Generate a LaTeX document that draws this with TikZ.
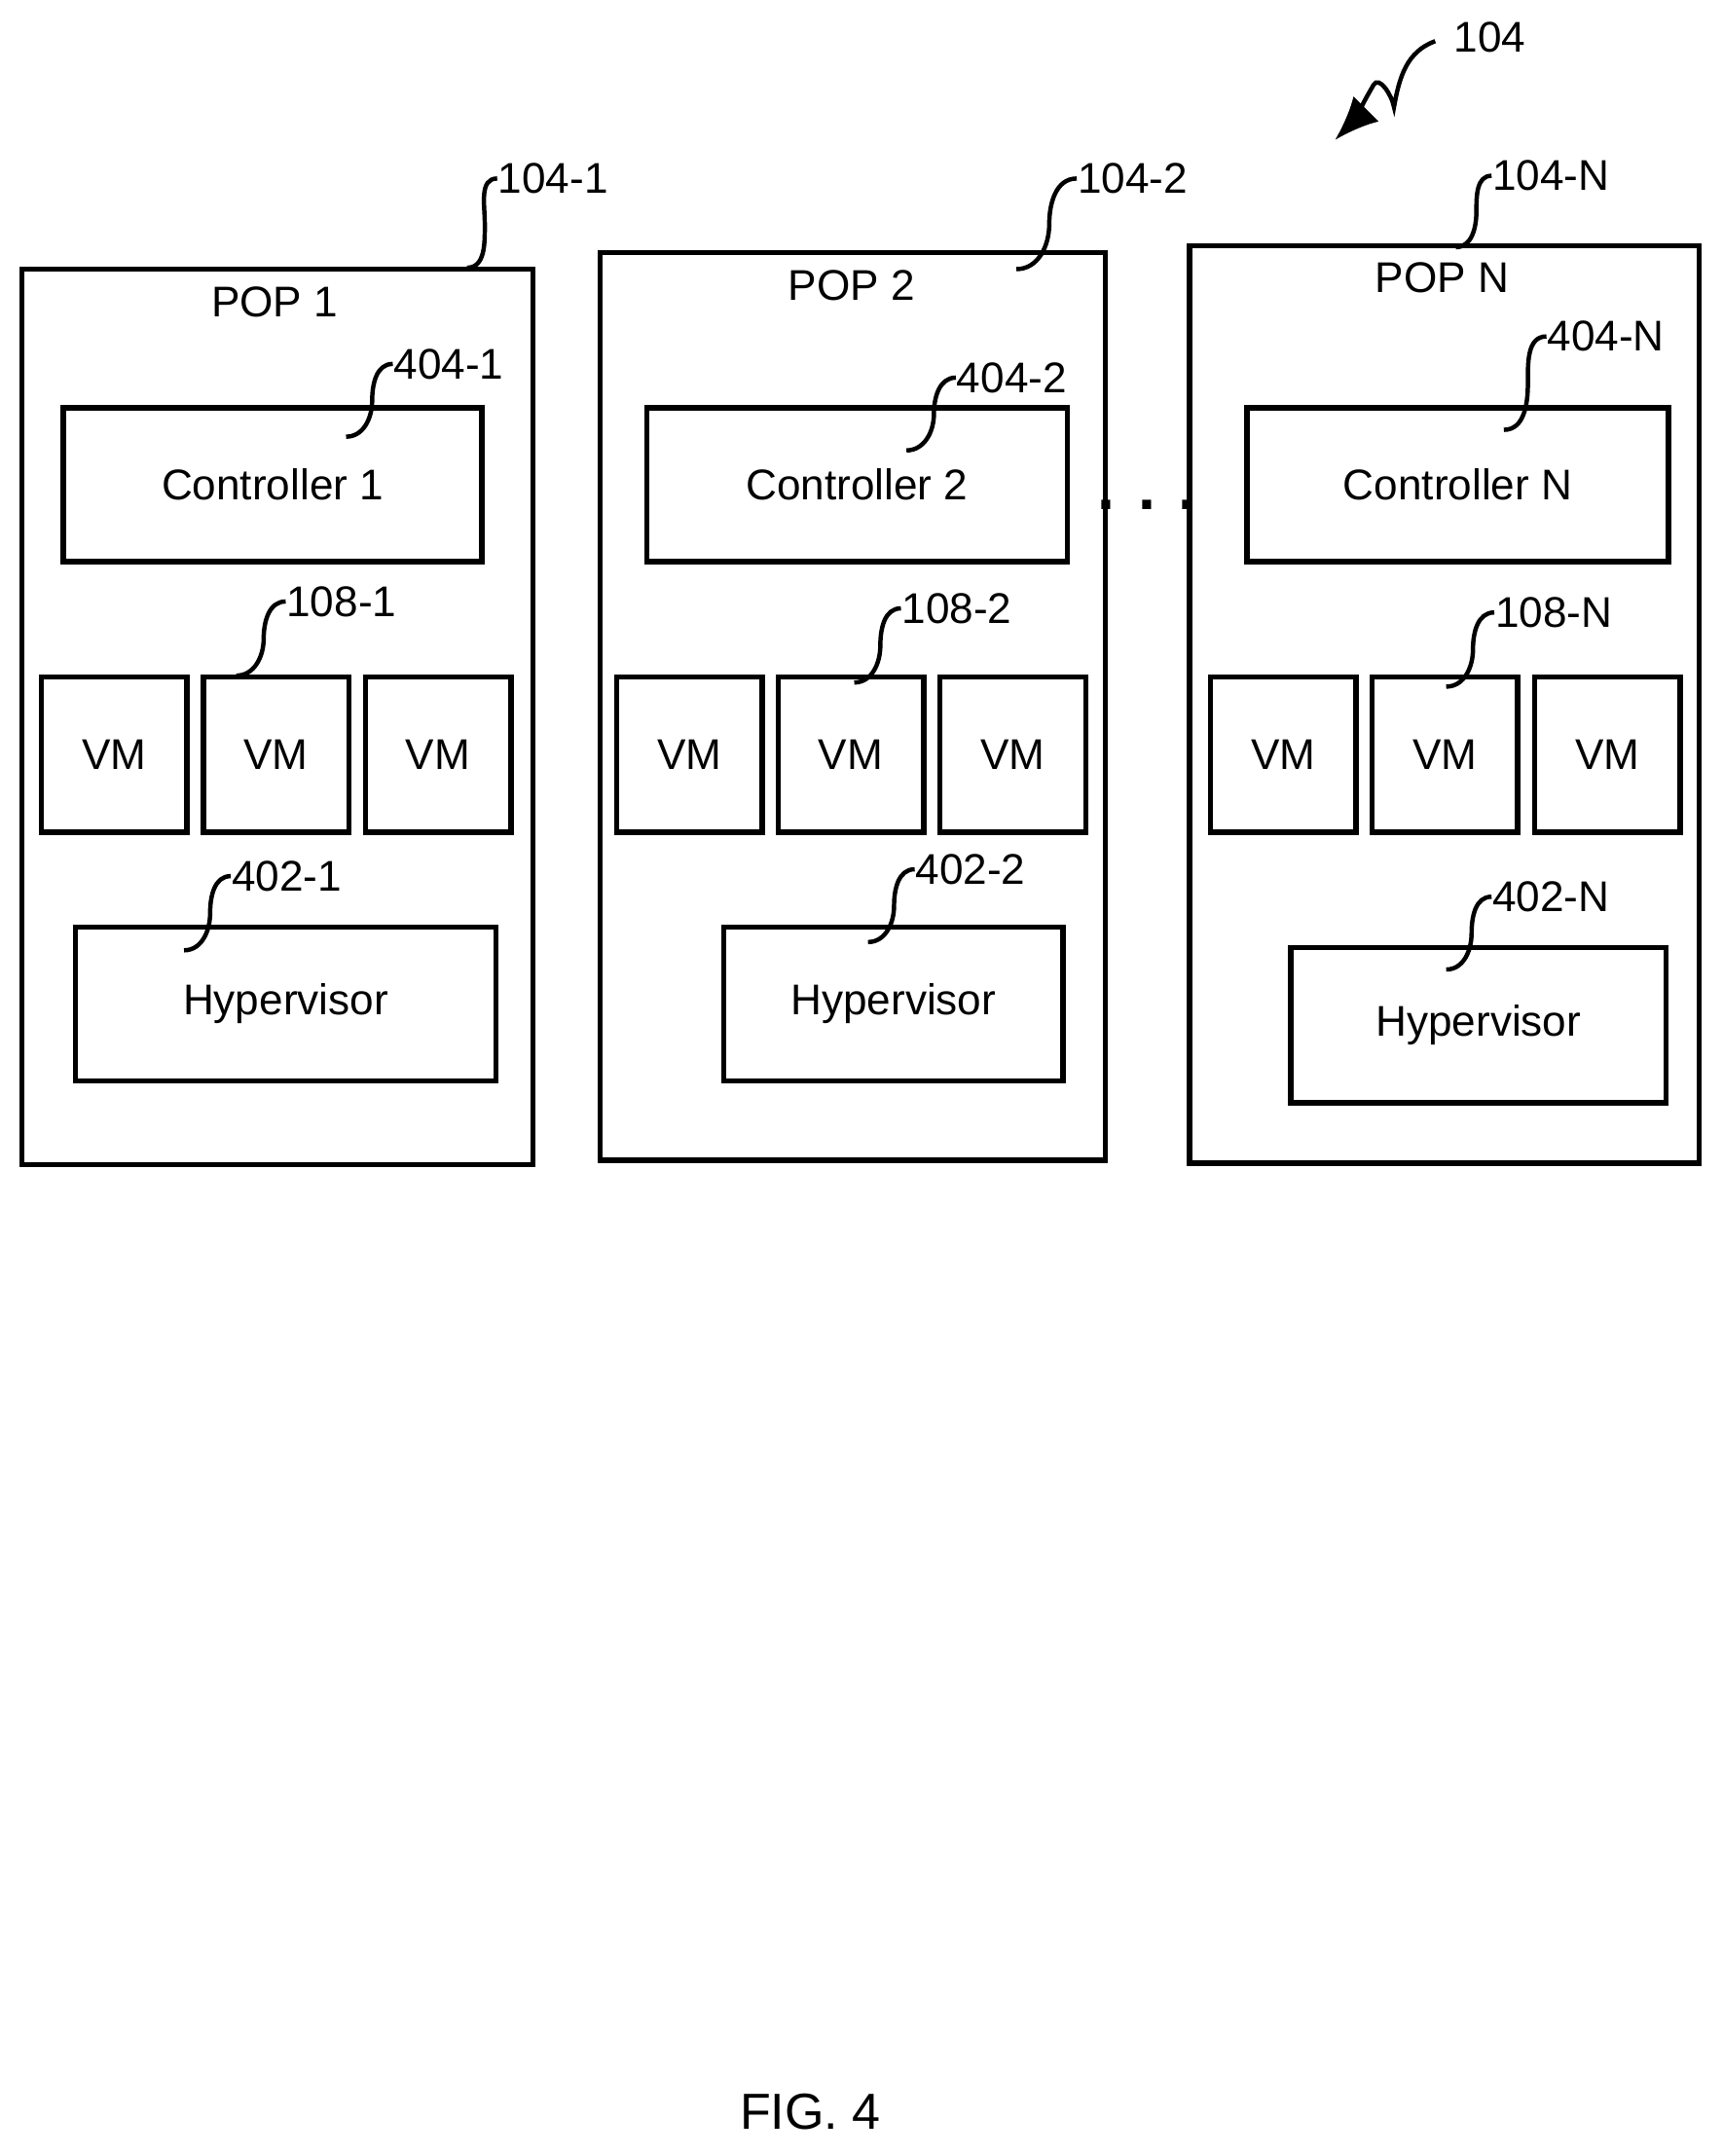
\documentclass[tikz,border=0pt]{standalone}
\usepackage{fontspec}
\setmainfont{Liberation Sans}
\usetikzlibrary{arrows.meta}
\begin{document}
\begin{tikzpicture}[x=0.1mm, y=-0.1mm,
        box/.style={rectangle, draw, line width=1.1pt, inner sep=0pt},
        lbl/.style={font=\fontsize{8.9}{10}\selectfont},
        lead/.style={line width=0.9pt}
      ]
      \useasboundingbox (0,0) rectangle (1254,1570);

      % POP boxes
      \node[box, minimum width=37.2mm, minimum height=65.2mm] (pop1) at (202,522) {};
      \node[box, minimum width=36.8mm, minimum height=66.1mm] (pop2) at (621,514.5) {};
      \node[box, minimum width=37.1mm, minimum height=66.8mm] (popN) at (1051.5,513) {};
      \node[lbl] (pop1l) at (200,220) {POP 1};
      \node[lbl] (pop2l) at (620,208) {POP 2};
      \node[lbl] (popNl) at (1050,202) {POP N};

      % Controllers
      \node[box, lbl, minimum width=30.5mm, minimum height=11.2mm] (ctrl1) at (198.5,353) {Controller 1};
      \node[box, lbl, minimum width=30.6mm, minimum height=11.2mm] (ctrl2) at (624,353) {Controller 2};
      \node[box, lbl, minimum width=30.7mm, minimum height=11.2mm] (ctrlN) at (1061.5,353) {Controller N};

      % VMs
      \foreach \x [count=\i] in {83,201,319,502,619.5,737.5,934.5,1052,1170.5}
        \node[box, lbl, minimum width=10.6mm, minimum height=11.3mm] (vm\i) at (\x,549.5) {VM};

      % Hypervisors
      \node[box, lbl, minimum width=30.6mm, minimum height=11.2mm] (hyp1) at (208,731) {Hypervisor};
      \node[box, lbl, minimum width=24.7mm, minimum height=11.2mm] (hyp2) at (650.5,731) {Hypervisor};
      \node[box, lbl, minimum width=27.3mm, minimum height=11.3mm] (hypN) at (1076.5,746.5) {Hypervisor};

      % dots between POP 2 and POP N
      \node[lbl, font=\fontsize{13}{13}\selectfont\bfseries] (dots) at (835,368) {. . .};

      % reference labels
      \foreach \sx/\sy/\ex/\ey/\t/\n in {
          340/195/366/130/104-1/r1, 740/196/788/130/104-2/r2, 1060/180/1090/128/104-N/r3,
          252/318/290/265/404-1/r4, 660/328/700/275/404-2/r5, 1095/313/1130/245/404-N/r6,
          172/492/212/438/108-1/r7, 622/497/660/443/108-2/r8, 1053/500/1092/446/108-N/r9,
          134/692/172/638/402-1/r10, 632/686/670/633/402-2/r11, 1053/706/1090/653/402-N/r12} {
        \pgfmathsetmacro\mx{(\sx+\ex)/2}
        \pgfmathsetmacro\my{(\sy+\ey)/2}
        \node[lbl, anchor=west, inner sep=0pt] (\n) at (\ex-4,\ey) {\t};
        \coordinate (\n s) at (\sx,\sy);
        \draw[lead] (\n s) to[out=0, in=-90] (\mx,\my)
          to[out=90, in=180] (\n.west);
      }

      % overall reference
      \node[lbl, anchor=west, inner sep=0pt] (ref) at (1058,27) {104};
      \coordinate (refs) at (1045,30);
      \coordinate (refe) at (972,102);
      \draw[lead, -{Latex[length=3.2mm, width=2.6mm]}] (refs) to[out=200, in=80] (1015,78)
        to[out=100, in=60] (1000,62) to[out=240, in=45] (refe);

      \node[lbl, font=\fontsize{10.5}{12}\selectfont] (fig) at (590,1538) {FIG. 4};
    \end{tikzpicture}
\end{document}
